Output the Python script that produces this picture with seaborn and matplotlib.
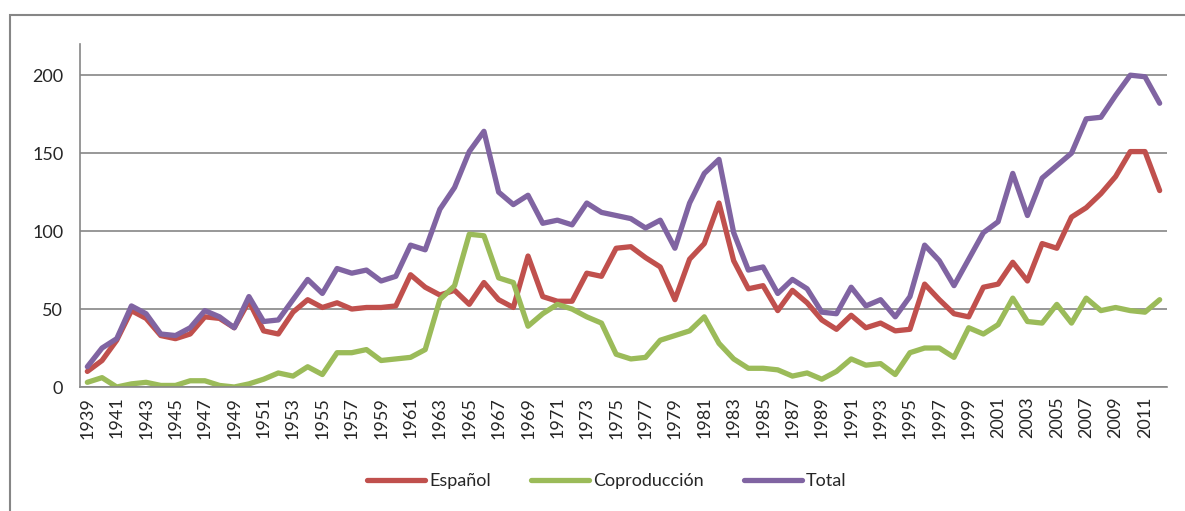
import matplotlib
matplotlib.use("Agg")
import matplotlib.pyplot as plt
import numpy as np
import pandas as pd
import seaborn as sns
from matplotlib.patches import Rectangle

years = list(range(1939, 2013))

espanol = [10, 17, 30, 49, 44, 33, 31, 34, 45, 44,
           38, 55, 36, 34, 48, 56, 51, 54, 50, 51,
           51, 52, 72, 64, 59, 62, 53, 67, 56, 51,
           84, 58, 55, 55, 73, 71, 89, 90, 83, 77,
           56, 82, 92, 118, 81, 63, 65, 49, 62, 54,
           43, 37, 46, 38, 41, 36, 37, 66, 56, 47,
           45, 64, 66, 80, 68, 92, 89, 109, 115, 124,
           135, 151, 151, 126]

coproduccion = [3, 6, 0, 2, 3, 1, 1, 4, 4, 1,
                0, 2, 5, 9, 7, 13, 8, 22, 22, 24,
                17, 18, 19, 24, 56, 65, 98, 97, 70, 67,
                39, 47, 53, 50, 45, 41, 21, 18, 19, 30,
                33, 36, 45, 28, 18, 12, 12, 11, 7, 9,
                5, 10, 18, 14, 15, 8, 22, 25, 25, 19,
                38, 34, 40, 57, 42, 41, 53, 41, 57, 49,
                51, 49, 48, 56]

total = [13, 25, 31, 52, 47, 34, 33, 38, 49, 45,
         38, 58, 42, 43, 56, 69, 60, 76, 73, 75,
         68, 71, 91, 88, 114, 128, 151, 164, 125, 117,
         123, 105, 107, 104, 118, 112, 110, 108, 102, 107,
         89, 118, 137, 146, 99, 75, 77, 60, 69, 63,
         48, 47, 64, 52, 56, 45, 58, 91, 81, 65,
         82, 99, 106, 137, 110, 134, 142, 150, 172, 173,
         187, 200, 199, 182]

series_names = ["Español", "Coproducción", "Total"]
colors = ["#C0504D", "#9BBB59", "#8064A2"]

df = pd.DataFrame({"Año": years, "Español": espanol,
                   "Coproducción": coproduccion, "Total": total})
long_df = df.melt(id_vars="Año", var_name="Serie", value_name="Valor")
long_df["pos"] = long_df["Año"] - years[0]

sns.set_style("white")
plt.rcParams["font.family"] = ["Lato", "DejaVu Sans"]

fig = plt.figure(figsize=(11.85, 5.11), dpi=100)
ax = fig.add_axes([80 / 1185, 1 - 387 / 511, (1167 - 80) / 1185, (387 - 44) / 511])

sns.lineplot(data=long_df, x="pos", y="Valor", hue="Serie", hue_order=series_names,
             palette=colors, linewidth=3.8, ax=ax, legend=True)

grey = "#868686"
ax.set_xlim(-0.5, len(years) - 0.5)
ax.set_ylim(0, 220)
ax.set_yticks([0, 50, 100, 150, 200])
ax.yaxis.grid(True, color=grey, linewidth=1.2)
ax.set_axisbelow(True)
ax.tick_params(axis="y", length=6, color=grey, width=1.0, labelsize=13, pad=6)

ax.set_xticks(np.arange(0, len(years), 2))
ax.set_xticklabels([str(y) for y in years[::2]], rotation=90, fontsize=13)
ax.set_xticks(np.arange(-0.5, len(years), 1), minor=True)
ax.tick_params(axis="x", which="major", length=0, pad=7)
ax.tick_params(axis="x", which="minor", length=5, color=grey, width=1.0)

for side in ["top", "right"]:
    ax.spines[side].set_visible(False)
for side in ["left", "bottom"]:
    ax.spines[side].set_color(grey)
    ax.spines[side].set_linewidth(1.2)
ax.set_xlabel("")
ax.set_ylabel("")

handles, labels = ax.get_legend_handles_labels()
ax.get_legend().remove()
fig.legend(handles, labels, loc="center", bbox_to_anchor=(607 / 1185, 1 - 481 / 511),
           ncol=3, frameon=False, fontsize=13, handlelength=3.2,
           handletextpad=0.25, columnspacing=2.2)

fig.patches.append(Rectangle((10 / 1185, -0.1), 1.2, 1 - 15 / 511 + 0.1,
                             transform=fig.transFigure, fill=False,
                             edgecolor=grey, linewidth=1.5))

fig.savefig("out.png", dpi=100)
